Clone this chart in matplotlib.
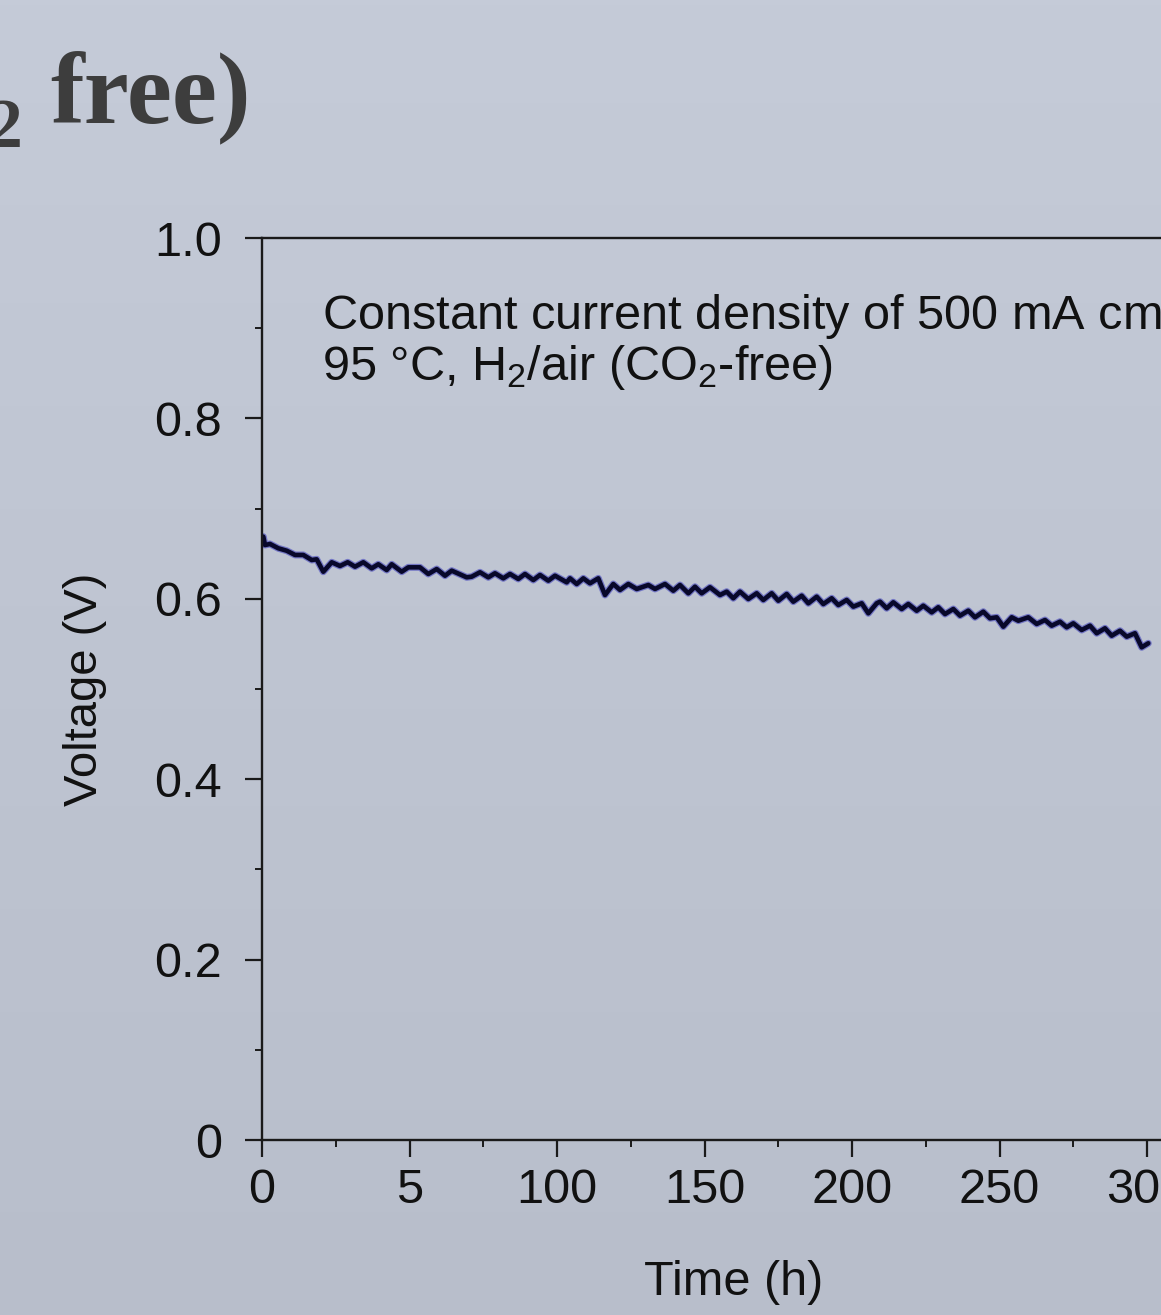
import numpy as np
import matplotlib
matplotlib.use("Agg")
import matplotlib.pyplot as plt
from matplotlib.ticker import MultipleLocator, FixedLocator, FixedFormatter

plt.rcParams["font.family"] = ["Liberation Sans", "DejaVu Sans"]
plt.rcParams["mathtext.fontset"] = "custom"
plt.rcParams["mathtext.rm"] = "Liberation Sans"
plt.rcParams["mathtext.it"] = "Liberation Sans:italic"
plt.rcParams["mathtext.bf"] = "Liberation Sans:bold"

# Cell voltage during the constant-current hold (time in h, voltage in V)
time_h = [
    0.44, 1.02, 2.71, 5.53, 8.37, 11.19, 14.0, 16.85, 18.54, 20.78,
    23.63, 26.44, 29.05, 31.53, 34.34, 37.19, 39.42, 42.27, 43.97, 47.36,
    49.59, 53.56, 56.37, 59.22, 62.03, 64.31, 69.39, 71.08, 73.9, 76.71,
    78.98, 81.8, 84.07, 86.88, 89.15, 91.97, 94.24, 97.05, 99.32, 103.29,
    104.41, 106.68, 108.92, 111.19, 114.0, 116.27, 119.08, 121.36, 124.17, 127.02,
    130.95, 133.22, 136.61, 139.42, 141.69, 144.51, 146.78, 149.05, 151.86, 155.25,
    157.53, 159.76, 162.03, 164.85, 167.69, 169.93, 172.78, 175.02, 177.86, 180.1,
    182.95, 185.19, 188.03, 190.27, 193.12, 195.36, 198.2, 200.44, 203.29, 205.53,
    208.37, 209.49, 211.76, 214.0, 216.85, 219.08, 221.93, 224.17, 227.02, 229.25,
    231.53, 234.34, 236.61, 239.42, 241.69, 244.51, 246.78, 249.05, 251.29, 254.14,
    256.37, 259.76, 262.61, 265.42, 267.69, 270.51, 272.78, 275.02, 277.86, 280.68,
    282.95, 285.76, 288.03, 290.85, 293.12, 295.93, 298.2, 300.44,
]
voltage_v = [
    0.6689, 0.6596, 0.6608, 0.6560, 0.6533, 0.6486, 0.6486, 0.6430, 0.6438, 0.6300,
    0.6405, 0.6364, 0.6405, 0.6356, 0.6405, 0.6338, 0.6383, 0.6319, 0.6383, 0.6300,
    0.6349, 0.6349, 0.6275, 0.6330, 0.6256, 0.6312, 0.6238, 0.6245, 0.6294, 0.6238,
    0.6283, 0.6227, 0.6275, 0.6220, 0.6275, 0.6208, 0.6264, 0.6201, 0.6256, 0.6183,
    0.6227, 0.6164, 0.6227, 0.6172, 0.6227, 0.6042, 0.6164, 0.6098, 0.6164, 0.6109,
    0.6153, 0.6109, 0.6164, 0.6090, 0.6153, 0.6061, 0.6134, 0.6061, 0.6128, 0.6042,
    0.6079, 0.6006, 0.6079, 0.5998, 0.6061, 0.5987, 0.6061, 0.5979, 0.6053, 0.5968,
    0.6034, 0.5950, 0.6023, 0.5942, 0.6006, 0.5931, 0.5987, 0.5913, 0.5950, 0.5839,
    0.5950, 0.5968, 0.5895, 0.5961, 0.5887, 0.5942, 0.5868, 0.5923, 0.5850, 0.5906,
    0.5831, 0.5887, 0.5813, 0.5868, 0.5795, 0.5857, 0.5784, 0.5795, 0.5691, 0.5795,
    0.5757, 0.5795, 0.5721, 0.5765, 0.5702, 0.5746, 0.5684, 0.5728, 0.5654, 0.5702,
    0.5618, 0.5673, 0.5591, 0.5646, 0.5580, 0.5618, 0.5462, 0.5507,
]

x_ticks = [0, 50, 100, 150, 200, 250, 300]
x_tick_labels = ["0", "5", "100", "150", "200", "250", "300"]
y_ticks = [0.0, 0.2, 0.4, 0.6, 0.8, 1.0]
y_tick_labels = ["0", "0.2", "0.4", "0.6", "0.8", "1.0"]

W, H = 1161, 1315
fig = plt.figure(figsize=(W / 100, H / 100), dpi=100)

# soft blue-grey backdrop, slightly darker towards the bottom
bg = fig.add_axes([0, 0, 1, 1], zorder=-10)
grad = np.linspace(0, 1, 256).reshape(-1, 1)
top_c = np.array([0xc5, 0xcb, 0xd8]) / 255
bot_c = np.array([0xb8, 0xbe, 0xcb]) / 255
img = top_c[None, None, :] * (1 - grad[..., None]) + bot_c[None, None, :] * grad[..., None]
bg.imshow(img, aspect="auto", extent=[0, 1, 0, 1], origin="upper")
bg.set_axis_off()

# heading, only its tail fits on the canvas
fig.text(50 / W, 1 - 123 / H, "free)", fontsize=73, fontweight="bold",
         family="Liberation Serif", color="#3d3d3d", ha="left", va="baseline")
fig.text(22 / W, 1 - 147 / H, "2", fontsize=50, fontweight="bold",
         family="Liberation Serif", color="#3d3d3d", ha="right", va="baseline")

x_max = 320
px_per_h = 2.95
left, bottom, top = 262, 1140, 238
ax = fig.add_axes([left / W, 1 - bottom / H, x_max * px_per_h / W, (bottom - top) / H])
ax.set_facecolor("none")

ax.plot(time_h, voltage_v, color="#2a2ab8", lw=5.0, alpha=0.5,
        solid_joinstyle="round", solid_capstyle="round")
ax.plot(time_h, voltage_v, color="#08082a", lw=3.3,
        solid_joinstyle="round", solid_capstyle="round")

ax.set_xlim(0, x_max)
ax.set_ylim(0, 1.0)

ax.xaxis.set_major_locator(FixedLocator(x_ticks))
ax.xaxis.set_major_formatter(FixedFormatter(x_tick_labels))
ax.xaxis.set_minor_locator(MultipleLocator(25))
ax.yaxis.set_major_locator(FixedLocator(y_ticks))
ax.yaxis.set_major_formatter(FixedFormatter(y_tick_labels))
ax.yaxis.set_minor_locator(MultipleLocator(0.1))

for s in ["left", "bottom", "top", "right"]:
    ax.spines[s].set_linewidth(1.7)
    ax.spines[s].set_color("#1a1a1a")

ax.tick_params(which="major", direction="out", length=12, width=1.6, color="#1a1a1a",
               labelsize=35, labelcolor="#111111")
ax.tick_params(which="minor", direction="out", length=5, width=1.4, color="#1a1a1a")
ax.tick_params(axis="y", which="major", pad=17)
ax.tick_params(axis="x", which="major", pad=8)

ax.set_xlabel("Time (h)", fontsize=35, color="#111111", labelpad=34)
ax.set_ylabel("Voltage (V)", fontsize=34, color="#111111", labelpad=34)

ax.text(322 / W, 1 - 329 / H,
        "Constant current density of 500 mA cm$^{-2}$,",
        transform=fig.transFigure, fontsize=35, color="#111111",
        ha="left", va="baseline")
ax.text(322 / W, 1 - 380 / H,
        "95 \u00b0C, H$_2$/air (CO$_2$-free)",
        transform=fig.transFigure, fontsize=35, color="#111111",
        ha="left", va="baseline")

fig.savefig("out.png", dpi=100)
